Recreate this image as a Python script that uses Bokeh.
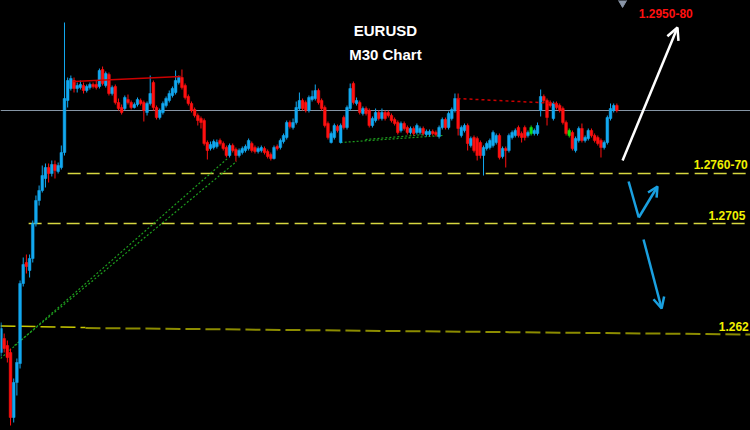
from bokeh.plotting import figure
from bokeh.models import Range1d, Arrow, OpenHead, ColumnDataSource, GlobalInlineStyleSheet
from bokeh.core.properties import value
from bokeh.embed import file_html
from bokeh.resources import INLINE

# ---- EURUSD M30 candles ----
candle_open = [1.2586,1.2600,1.2593,1.2586,1.2521,1.2556,1.2575,1.2655,1.2676,1.2668,
1.2680,1.2715,1.2738,1.2748,1.2760,1.2771,1.2765,1.2774,1.2767,1.2771,
1.2786,1.2838,1.2850,1.2858,1.2850,1.2851,1.2853,1.2848,1.2851,1.2854,
1.2854,1.2852,1.2869,1.2853,1.2864,1.2845,1.2852,1.2836,1.2831,1.2830,
1.2839,1.2836,1.2831,1.2834,1.2838,1.2836,1.2826,1.2835,1.2856,1.2831,
1.2821,1.2826,1.2833,1.2838,1.2843,1.2846,1.2856,1.2861,1.2853,1.2842,
1.2835,1.2829,1.2823,1.2820,1.2818,1.2796,1.2790,1.2791,1.2792,1.2798,
1.2795,1.2791,1.2783,1.2793,1.2789,1.2783,1.2786,1.2788,1.2790,1.2795,
1.2791,1.2787,1.2788,1.2790,1.2787,1.2784,1.2780,1.2792,1.2791,1.2797,
1.2801,1.2816,1.2811,1.2816,1.2830,1.2838,1.2836,1.2828,1.2839,1.2840,
1.2848,1.2838,1.2831,1.2815,1.2796,1.2801,1.2812,1.2796,1.2821,1.2811,
1.2830,1.2855,1.2835,1.2836,1.2825,1.2830,1.2828,1.2813,1.2818,1.2826,
1.2820,1.2826,1.2826,1.2823,1.2819,1.2816,1.2808,1.2815,1.2811,1.2806,
1.2810,1.2806,1.2806,1.2810,1.2804,1.2804,1.2807,1.2806,1.2802,1.2811,
1.2819,1.2811,1.2820,1.2828,1.2840,1.2803,1.2808,1.2813,1.2793,1.2801,
1.2800,1.2796,1.2783,1.2790,1.2791,1.2793,1.2796,1.2803,1.2782,1.2790,
1.2788,1.2801,1.2803,1.2811,1.2805,1.2811,1.2803,1.2805,1.2805,1.2805,
1.2828,1.2842,1.2838,1.2836,1.2820,1.2835,1.2833,1.2830,1.2816,1.2803,
1.2806,1.2788,1.2798,1.2810,1.2798,1.2800,1.2808,1.2803,1.2801,1.2798,
1.2791,1.2796,1.2820,1.2828,1.2833]

candle_high = [1.2616,1.2605,1.2598,1.2590,1.2560,1.2580,1.2658,1.2681,1.2684,1.2684,
1.2718,1.2743,1.2753,1.2773,1.2775,1.2775,1.2778,1.2778,1.2776,1.2793,
1.2916,1.2861,1.2863,1.2861,1.2856,1.2858,1.2856,1.2854,1.2856,1.2856,
1.2858,1.2870,1.2872,1.2867,1.2866,1.2853,1.2854,1.2840,1.2834,1.2843,
1.2844,1.2838,1.2836,1.2841,1.2840,1.2838,1.2837,1.2863,1.2858,1.2833,
1.2830,1.2837,1.2842,1.2848,1.2852,1.2868,1.2863,1.2869,1.2855,1.2844,
1.2837,1.2831,1.2825,1.2822,1.2820,1.2798,1.2797,1.2799,1.2799,1.2800,
1.2797,1.2793,1.2795,1.2795,1.2791,1.2790,1.2792,1.2794,1.2800,1.2797,
1.2793,1.2792,1.2793,1.2792,1.2789,1.2786,1.2793,1.2794,1.2800,1.2805,
1.2818,1.2818,1.2820,1.2837,1.2846,1.2840,1.2838,1.2843,1.2848,1.2854,
1.2850,1.2840,1.2833,1.2817,1.2807,1.2815,1.2814,1.2815,1.2823,1.2833,
1.2855,1.2857,1.2841,1.2838,1.2832,1.2832,1.2830,1.2822,1.2830,1.2828,
1.2830,1.2828,1.2828,1.2825,1.2821,1.2818,1.2817,1.2817,1.2813,1.2812,
1.2812,1.2815,1.2812,1.2812,1.2809,1.2809,1.2809,1.2808,1.2813,1.2821,
1.2821,1.2827,1.2831,1.2845,1.2845,1.2813,1.2815,1.2815,1.2802,1.2803,
1.2802,1.2798,1.2793,1.2797,1.2800,1.2808,1.2805,1.2805,1.2792,1.2792,
1.2805,1.2808,1.2810,1.2813,1.2807,1.2813,1.2808,1.2813,1.2810,1.2816,
1.2849,1.2844,1.2840,1.2838,1.2837,1.2837,1.2835,1.2832,1.2818,1.2810,
1.2808,1.2802,1.2812,1.2815,1.2803,1.2810,1.2810,1.2805,1.2803,1.2800,
1.2798,1.2823,1.2835,1.2835,1.2835]

candle_low = [1.2582,1.2586,1.2576,1.2513,1.2516,1.2543,1.2570,1.2652,1.2665,1.2661,
1.2676,1.2712,1.2733,1.2746,1.2751,1.2756,1.2762,1.2760,1.2765,1.2769,
1.2783,1.2831,1.2848,1.2846,1.2846,1.2849,1.2845,1.2846,1.2849,1.2850,
1.2849,1.2850,1.2853,1.2851,1.2843,1.2843,1.2834,1.2828,1.2824,1.2828,
1.2834,1.2829,1.2830,1.2832,1.2833,1.2817,1.2823,1.2833,1.2828,1.2819,
1.2819,1.2824,1.2831,1.2836,1.2841,1.2844,1.2854,1.2849,1.2839,1.2833,
1.2826,1.2821,1.2813,1.2810,1.2793,1.2779,1.2788,1.2789,1.2790,1.2793,
1.2788,1.2781,1.2781,1.2786,1.2777,1.2781,1.2784,1.2786,1.2788,1.2786,
1.2785,1.2785,1.2786,1.2784,1.2780,1.2778,1.2779,1.2788,1.2789,1.2795,
1.2799,1.2810,1.2809,1.2814,1.2828,1.2828,1.2826,1.2826,1.2837,1.2838,
1.2834,1.2828,1.2811,1.2799,1.2795,1.2799,1.2806,1.2795,1.2809,1.2809,
1.2828,1.2834,1.2833,1.2824,1.2823,1.2823,1.2811,1.2811,1.2816,1.2818,
1.2818,1.2818,1.2821,1.2816,1.2813,1.2804,1.2806,1.2808,1.2804,1.2804,
1.2803,1.2804,1.2804,1.2803,1.2802,1.2802,1.2803,1.2802,1.2800,1.2809,
1.2809,1.2809,1.2818,1.2826,1.2803,1.2801,1.2806,1.2788,1.2791,1.2786,
1.2778,1.2780,1.2763,1.2788,1.2789,1.2791,1.2794,1.2779,1.2780,1.2771,
1.2786,1.2799,1.2801,1.2801,1.2796,1.2798,1.2801,1.2803,1.2803,1.2803,
1.2822,1.2836,1.2813,1.2831,1.2818,1.2829,1.2826,1.2814,1.2803,1.2801,
1.2788,1.2786,1.2796,1.2796,1.2796,1.2798,1.2801,1.2796,1.2793,1.2781,
1.2789,1.2794,1.2818,1.2826,1.2826]

candle_close = [1.2610,1.2590,1.2581,1.2521,1.2556,1.2576,1.2655,1.2674,1.2672,1.2680,
1.2715,1.2738,1.2748,1.2763,1.2771,1.2765,1.2774,1.2768,1.2773,1.2786,
1.2840,1.2858,1.2860,1.2850,1.2853,1.2854,1.2848,1.2852,1.2854,1.2852,
1.2851,1.2868,1.2855,1.2865,1.2845,1.2851,1.2836,1.2830,1.2826,1.2841,
1.2836,1.2831,1.2834,1.2839,1.2835,1.2828,1.2835,1.2845,1.2831,1.2821,
1.2828,1.2835,1.2840,1.2845,1.2850,1.2858,1.2861,1.2851,1.2841,1.2835,
1.2828,1.2823,1.2818,1.2816,1.2795,1.2788,1.2794,1.2797,1.2796,1.2795,
1.2790,1.2783,1.2793,1.2788,1.2783,1.2788,1.2790,1.2792,1.2798,1.2788,
1.2787,1.2790,1.2791,1.2786,1.2782,1.2780,1.2791,1.2790,1.2798,1.2803,
1.2816,1.2812,1.2816,1.2831,1.2838,1.2830,1.2828,1.2841,1.2842,1.2848,
1.2836,1.2830,1.2813,1.2801,1.2805,1.2813,1.2808,1.2813,1.2811,1.2831,
1.2850,1.2836,1.2838,1.2826,1.2830,1.2825,1.2813,1.2820,1.2826,1.2820,
1.2826,1.2820,1.2823,1.2818,1.2815,1.2806,1.2815,1.2810,1.2806,1.2810,
1.2805,1.2813,1.2810,1.2805,1.2807,1.2807,1.2805,1.2804,1.2811,1.2819,
1.2811,1.2825,1.2829,1.2840,1.2810,1.2811,1.2813,1.2795,1.2800,1.2788,
1.2783,1.2783,1.2791,1.2795,1.2798,1.2806,1.2803,1.2781,1.2790,1.2788,
1.2803,1.2806,1.2808,1.2803,1.2801,1.2801,1.2806,1.2811,1.2808,1.2813,
1.2842,1.2838,1.2821,1.2833,1.2835,1.2831,1.2828,1.2816,1.2805,1.2808,
1.2790,1.2800,1.2810,1.2798,1.2801,1.2808,1.2803,1.2798,1.2795,1.2791,
1.2796,1.2821,1.2830,1.2833,1.2828]

green_candles = [167, 179]

# ---- levels / annotations ----
title_lines = ["EURUSD", "M30 Chart"]
target_label = "1.2950-80"
level_labels = ["1.2760-70", "1.2705", "1.262"]
level_prices = [1.2765, 1.2715]
level_label_prices = [1.2774, 1.2723, 1.2612]
pivot_price = 1.2828

UP, DOWN, GREEN = "#12a8f0", "#ff1010", "#10e010"
YELLOW = "#d6d640"
TREND_GREEN = "#1e9e1e"

n = len(candle_open)
idx = list(range(n))
colors = []
for i in range(n):
    if i in green_candles:
        colors.append(GREEN)
    elif candle_close[i] >= candle_open[i]:
        colors.append(UP)
    else:
        colors.append(DOWN)
src = ColumnDataSource(dict(
    x=idx, high=candle_high, low=candle_low,
    top=[max(o, c) for o, c in zip(candle_open, candle_close)],
    bottom=[min(o, c) for o, c in zip(candle_open, candle_close)],
    color=colors))

p = figure(width=750, height=430, output_backend="svg", toolbar_location=None,
           x_range=Range1d(-0.16, 236.1), y_range=Range1d(1.2508, 1.2938),
           x_axis_location=None, y_axis_location=None,
           background_fill_color="black", border_fill_color="black",
           min_border=0, outline_line_color=None)
p.grid.visible = False
p.stylesheets = [GlobalInlineStyleSheet(
    css="html, body { background: #000; margin: 0; padding: 0; overflow: hidden; }")]

# horizontal levels
p.line([21, 236.1], [level_prices[0]] * 2, line_color=YELLOW, line_width=1.3, line_dash="13 6")
p.line([8.7, 236.1], [level_prices[1]] * 2, line_color=YELLOW, line_width=1.3, line_dash="13 6")
p.line([-0.16, 26.6], [1.26125, 1.2611], line_color="#c8c800", line_width=1.5, line_dash="15 5")
p.line([26.6, 236.1], [1.26105, 1.2604], line_color="#8c8c00", line_width=2, line_dash="15 5")
p.line([-0.16, 236.1], [pivot_price] * 2, line_color="#8595a5", line_width=1.2)

# green trend lines
p.line([-0.16, 71.7], [1.2580, 1.2781], line_color=TREND_GREEN, line_width=1.2, line_dash="2 2")
p.line([4.25, 74.2], [1.2593, 1.2777], line_color=TREND_GREEN, line_width=1.2, line_dash="2 2")
p.line([107, 139.1], [1.2796, 1.2803], line_color=TREND_GREEN, line_width=1.2, line_dash="2 2")
p.line([114.8, 133.7], [1.2799, 1.2804], line_color=TREND_GREEN, line_width=1.2, line_dash="2 2")

# candles
p.segment(x0="x", y0="low", x1="x", y1="high", color="color", line_width=1, source=src)
p.vbar(x="x", width=0.85, top="top", bottom="bottom", fill_color="color",
       line_color="color", line_width=0.5, source=src)

# red resistance lines
p.line([22.8, 56.6], [1.2857, 1.2862], line_color="#cc0000", line_width=1.5)
p.line([143.8, 175.6], [1.2840, 1.2835], line_color="#cc0000", line_width=1.5, line_dash="3 3")

# arrows
p.add_layout(Arrow(x_start=195.8, y_start=1.2778, x_end=213.1, y_end=1.2911,
                   line_color="white", line_width=2.5,
                   end=OpenHead(size=12, line_color="white", line_width=2.5)))
p.line([197.7, 200.9], [1.2757, 1.2721], line_color="#1aa0e0", line_width=2.5)
p.add_layout(Arrow(x_start=200.9, y_start=1.2721, x_end=206.8, y_end=1.2752,
                   line_color="#1aa0e0", line_width=2.5,
                   end=OpenHead(size=10, line_color="#1aa0e0", line_width=2.5)))
p.add_layout(Arrow(x_start=202.4, y_start=1.2699, x_end=208.1, y_end=1.2630,
                   line_color="#1aa0e0", line_width=2.5,
                   end=OpenHead(size=11, line_color="#1aa0e0", line_width=2.5)))
p.scatter([195.8], [1.2938], marker="inverted_triangle", size=12, color="#8a96a8")

# texts
font = value("Liberation Sans")
p.text(x=[121.1, 121.1], y=[1.2908, 1.2884], text=title_lines, text_font=font,
       text_font_style="bold", text_font_size="15px", text_color="white",
       text_align="center", text_baseline="middle")
p.text(x=[209.4], y=[1.2925], text=[target_label], text_font=font,
       text_font_style="bold", text_font_size="12px", text_color="#ff1010",
       text_align="center", text_baseline="middle")
p.text(x=[218.2, 222.9, 226.1], y=level_label_prices, text=level_labels, text_font=font,
       text_font_style="bold", text_font_size="12px", text_color="#f0f000",
       text_align="left", text_baseline="middle")

open("out.html", "w").write(file_html(p, INLINE))
